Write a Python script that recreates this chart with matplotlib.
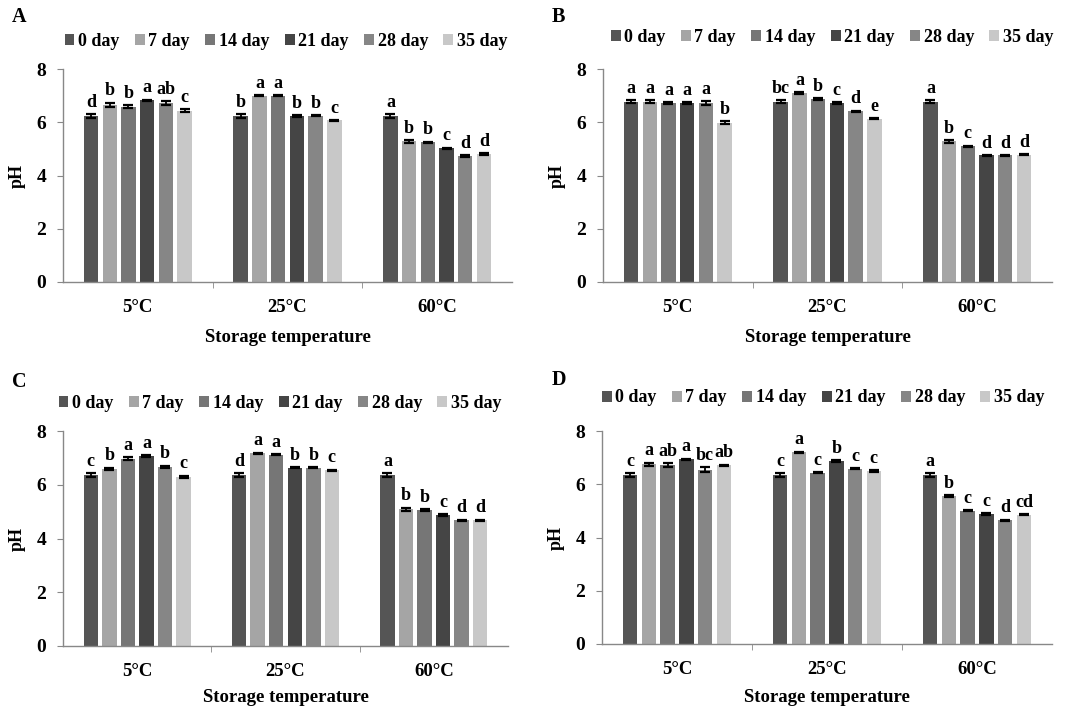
import numpy as np
import matplotlib
matplotlib.use("Agg")
import matplotlib.pyplot as plt
from matplotlib.patches import Patch

plt.rcParams["font.family"] = ["Liberation Serif", "DejaVu Serif"]
plt.rcParams["font.weight"] = "bold"

temps = ["5°C", "25°C", "60°C"]
days = ["0 day", "7 day", "14 day", "21 day", "28 day", "35 day"]
day_colors = ["#555555", "#a5a5a5", "#767676", "#454545", "#868686", "#c8c8c8"]

# pH, rows = temperature, columns = storage day
ph_a = [[6.24, 6.65, 6.59, 6.82, 6.72, 6.43],
        [6.24, 7.00, 7.00, 6.24, 6.24, 6.07],
        [6.24, 5.28, 5.24, 5.03, 4.74, 4.80]]
err_a = [[0.07, 0.09, 0.05, 0.03, 0.06, 0.06],
         [0.07, 0.03, 0.02, 0.03, 0.02, 0.02],
         [0.07, 0.05, 0.03, 0.02, 0.03, 0.03]]
sig_a = [["d", "b", "b", "a", "ab", "c"],
         ["b", "a", "a", "b", "b", "c"],
         ["a", "b", "b", "c", "d", "d"]]

ph_b = [[6.77, 6.77, 6.72, 6.73, 6.72, 5.99],
        [6.77, 7.10, 6.88, 6.73, 6.42, 6.13],
        [6.77, 5.28, 5.09, 4.76, 4.76, 4.78]]
err_b = [[0.05, 0.05, 0.05, 0.03, 0.07, 0.06],
         [0.05, 0.03, 0.03, 0.03, 0.02, 0.02],
         [0.05, 0.05, 0.03, 0.01, 0.01, 0.02]]
sig_b = [["a", "a", "a", "a", "a", "b"],
         ["bc", "a", "b", "c", "d", "e"],
         ["a", "b", "c", "d", "d", "d"]]

ph_c = [[6.35, 6.59, 6.97, 7.07, 6.66, 6.29],
        [6.35, 7.17, 7.11, 6.64, 6.64, 6.54],
        [6.35, 5.08, 5.05, 4.87, 4.67, 4.67]]
err_c = [[0.07, 0.05, 0.06, 0.03, 0.05, 0.05],
         [0.07, 0.03, 0.02, 0.03, 0.03, 0.02],
         [0.07, 0.07, 0.03, 0.03, 0.03, 0.03]]
sig_c = [["c", "b", "a", "a", "b", "c"],
         ["d", "a", "a", "b", "b", "c"],
         ["a", "b", "b", "c", "d", "d"]]

ph_d = [[6.36, 6.75, 6.71, 6.93, 6.55, 6.71],
        [6.36, 7.21, 6.44, 6.88, 6.58, 6.49],
        [6.36, 5.55, 5.01, 4.89, 4.65, 4.86]]
err_d = [[0.07, 0.06, 0.08, 0.03, 0.08, 0.03],
         [0.07, 0.02, 0.03, 0.03, 0.02, 0.03],
         [0.07, 0.04, 0.03, 0.03, 0.02, 0.02]]
sig_d = [["c", "a", "ab", "a", "bc", "ab"],
         ["c", "a", "c", "b", "c", "c"],
         ["a", "b", "c", "c", "d", "cd"]]

W, H = 1078, 710


def px_axes(left, right, bottom, top):
    return [left / W, 1 - bottom / H, (right - left) / W, (bottom - top) / H]


def draw_panel(fig, rect, ph, err, sig, letter, letter_xy, legend_xy, xlabel_y):
    ax = fig.add_axes(px_axes(*rect))
    ph = np.array(ph)
    err = np.array(err)
    x = np.arange(len(temps))
    slot = 0.125
    bw = 0.097
    for j, day in enumerate(days):
        pos = x + (j - 2.5) * slot
        ax.bar(pos, ph[:, j], width=bw, color=day_colors[j], edgecolor="none",
               label=day, zorder=2)
        ax.errorbar(pos, ph[:, j], yerr=err[:, j], fmt="none", ecolor="black",
                    elinewidth=1.3, capsize=3.4, capthick=1.6, zorder=3)
        for i in range(len(temps)):
            ax.text(pos[i], ph[i, j] + err[i, j] + 0.12, sig[i][j],
                    ha="center", va="bottom", fontsize=13, fontweight="bold")

    ax.set_xlim(-0.5, 2.5)
    ax.set_ylim(0, 8)
    ax.set_yticks([0, 2, 4, 6, 8])
    ax.set_xticks(x)
    ax.set_xticklabels(temps)
    ax.set_xticks([0.5, 1.5], minor=True)
    ax.tick_params(axis="x", which="major", length=0, pad=12, labelsize=13.5)
    ax.tick_params(axis="x", which="minor", length=4, direction="out", color="#888888")
    ax.tick_params(axis="y", length=4, direction="out", color="#888888", pad=8, labelsize=14)
    for side in ["top", "right"]:
        ax.spines[side].set_visible(False)
    for side in ["left", "bottom"]:
        ax.spines[side].set_color("#888888")
        ax.spines[side].set_linewidth(1.0)
    ax.set_ylabel("pH", fontsize=13, fontweight="bold", labelpad=8)

    fig.text(rect[0] / W + 0.5 * (rect[1] - rect[0]) / W, 1 - xlabel_y / H,
             "Storage temperature", ha="center", va="center", fontsize=13.5,
             fontweight="bold")
    fig.text(letter_xy[0] / W, 1 - letter_xy[1] / H, letter, ha="left",
             va="center", fontsize=14.5, fontweight="bold")

    handles = [Patch(facecolor=c, edgecolor="none") for c in day_colors]
    fig.legend(handles, days, loc="center",
               bbox_to_anchor=(legend_xy[0] / W, 1 - legend_xy[1] / H),
               ncol=6, frameon=False, handlelength=0.55,
               handleheight=0.55, handletextpad=0.2, columnspacing=0.85,
               borderpad=0, prop={"weight": "bold", "size": 13})
    return ax


fig = plt.figure(figsize=(W / 100, H / 100), dpi=100)

draw_panel(fig, (63, 512, 282, 69), ph_a, err_a, sig_a, "A", (12, 17), (286, 41), 337)
draw_panel(fig, (603, 1052, 282, 69), ph_b, err_b, sig_b, "B", (552, 17), (832, 37), 337)
draw_panel(fig, (63, 508, 646, 431), ph_c, err_c, sig_c, "C", (12, 382), (280, 403), 698)
draw_panel(fig, (602, 1052, 644, 431), ph_d, err_d, sig_d, "D", (552, 380), (823, 398), 697)

fig.savefig("out.png", dpi=100)
